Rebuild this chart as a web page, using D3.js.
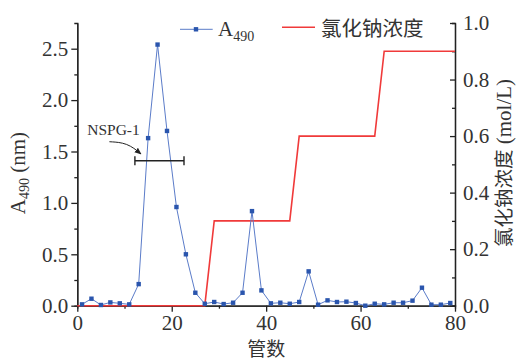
<!DOCTYPE html>
<html>
<head>
<meta charset="utf-8">
<script src="https://cdn.jsdelivr.net/npm/d3@7"></script>
<style>
  html, body { margin: 0; padding: 0; background: #fff; }
  svg { display: block; }
  .tick text { font-family: "Liberation Serif", "Times New Roman", serif; font-size: 21px; fill: #333; }
</style>
</head>
<body>
<svg id="chart" width="517" height="361"></svg>
<script>
// Tube numbers (odd fractions) and absorbance at 490 nm
const tubes = [1, 3, 5, 7, 9, 11, 13, 15, 17, 19, 21, 23, 25, 27, 29, 31, 33, 35, 37, 39,
               41, 43, 45, 47, 49, 51, 53, 55, 57, 59, 61, 63, 65, 67, 69, 71, 73, 75, 77, 79];
const a490 = [0.013, 0.068, 0.007, 0.032, 0.023, 0.013, 0.21, 1.63, 2.54, 1.70,
              0.96, 0.50, 0.126, 0.019, 0.036, 0.016, 0.029, 0.126, 0.92, 0.149,
              0.023, 0.029, 0.019, 0.036, 0.334, 0.010, 0.052, 0.036, 0.039, 0.026,
              0.000, 0.019, 0.013, 0.029, 0.029, 0.049, 0.175, 0.010, 0.010, 0.026];

// NaCl step gradient (mol/L)
const saltTube = [0, 27, 29, 45, 47, 63, 65, 80];
const saltConc = [0, 0, 0.3, 0.3, 0.6, 0.6, 0.9, 0.9];

// Axis ticks
const xTicks = [0, 20, 40, 60, 80];
const xMinor = [10, 30, 50, 70];
const yLeftTicks = [0, 0.5, 1.0, 1.5, 2.0, 2.5];
const yLeftMinor = [0.25, 0.75, 1.25, 1.75, 2.25];
const yRightTicks = [0, 0.2, 0.4, 0.6, 0.8, 1.0];
const yRightMinor = [0.1, 0.3, 0.5, 0.7, 0.9];

// Pooled fraction range for NSPG-1
const poolRange = [12.2, 22.6];
const poolLevel = 1.41;

const svg = d3.select("#chart");
const L = 77.3, R = 455, T = 23, B = 305.7;

const x = d3.scaleLinear().domain([0, 80]).range([L, R]);
const yL = d3.scaleLinear().domain([0, 2.75]).range([B, T]);
const yR = d3.scaleLinear().domain([0, 1.0]).range([B, T]);

const axisColor = "#222";
function styleAxis(g) {
  g.selectAll("path.domain").attr("stroke", axisColor).attr("stroke-width", 1.3);
  g.selectAll(".tick line").attr("stroke", axisColor).attr("stroke-width", 1.3);
}

// Minor ticks
svg.append("g").attr("transform", `translate(${L},0)`)
  .call(d3.axisLeft(yL).tickValues(yLeftMinor).tickSize(3).tickFormat(""))
  .call(styleAxis);
svg.append("g").attr("transform", `translate(0,${B})`)
  .call(d3.axisBottom(x).tickValues(xMinor).tickSize(3).tickFormat(""))
  .call(styleAxis);
svg.append("g").attr("transform", `translate(${R},0)`)
  .call(d3.axisRight(yR).tickValues(yRightMinor).tickSize(-3).tickFormat(""))
  .call(styleAxis);

// Major axes
svg.append("g").attr("transform", `translate(${L},0)`)
  .call(d3.axisLeft(yL).tickValues(yLeftTicks).tickSize(6).tickSizeOuter(0).tickPadding(3).tickFormat(d3.format(".1f")))
  .call(styleAxis);
svg.append("g").attr("transform", `translate(0,${B})`)
  .call(d3.axisBottom(x).tickValues(xTicks).tickSize(6).tickSizeOuter(0).tickPadding(3).tickFormat(d3.format("d")))
  .call(styleAxis);
svg.append("g").attr("transform", `translate(${R},0)`)
  .call(d3.axisRight(yR).tickValues(yRightTicks).tickSize(-5).tickSizeOuter(0).tickPadding(8).tickFormat(d3.format(".1f")))
  .call(styleAxis);

// NaCl gradient line
const saltData = saltTube.map((t, i) => [t, saltConc[i]]);
svg.append("path")
  .datum(saltData)
  .attr("fill", "none")
  .attr("stroke", "#f03a3a")
  .attr("stroke-width", 1.6)
  .attr("d", d3.line().x(d => x(d[0])).y(d => yR(d[1])));

// Absorbance curve
const absData = tubes.map((t, i) => [t, a490[i]]);
svg.append("path")
  .datum(absData)
  .attr("fill", "none")
  .attr("stroke", "#5b7cc9")
  .attr("stroke-width", 1)
  .attr("d", d3.line().x(d => x(d[0])).y(d => yL(d[1])));
svg.append("g").selectAll("rect")
  .data(absData)
  .join("rect")
  .attr("x", d => x(d[0]) - 2.2)
  .attr("y", d => yL(d[1]) - 2.2)
  .attr("width", 4.4)
  .attr("height", 4.4)
  .attr("fill", "#2a55ad");

// NSPG-1 pooled range bar
const barY = yL(poolLevel);
const bar = svg.append("g").attr("stroke", "#222").attr("stroke-width", 1.4);
bar.append("line").attr("x1", x(poolRange[0])).attr("x2", x(poolRange[1])).attr("y1", barY).attr("y2", barY);
poolRange.forEach(v => {
  bar.append("line").attr("x1", x(v)).attr("x2", x(v)).attr("y1", barY - 4.5).attr("y2", barY + 4.5);
});

// Label with arrow
const serif = "'Liberation Serif', 'Times New Roman', serif";
const cjk = "'Noto Sans CJK SC', sans-serif";
svg.append("text")
  .attr("x", x(2.1)).attr("y", yL(1.66))
  .attr("font-family", serif).attr("font-size", 15.5).attr("fill", "#333")
  .text("NSPG-1");
svg.append("defs").append("marker")
  .attr("id", "arrowhead").attr("viewBox", "0 0 10 10")
  .attr("refX", 9).attr("refY", 5)
  .attr("markerWidth", 7).attr("markerHeight", 7)
  .attr("orient", "auto")
  .append("path").attr("d", "M0,1 L10,5 L0,9 Z").attr("fill", "#222");
const arrowPts = [[6.8, 1.595], [10.6, 1.585], [13.5, 1.476]];
svg.append("path")
  .attr("d", d3.line().curve(d3.curveBasis).x(d => x(d[0])).y(d => yL(d[1]))(arrowPts))
  .attr("fill", "none").attr("stroke", "#222").attr("stroke-width", 1)
  .attr("marker-end", "url(#arrowhead)");

// Legend
const lg = svg.append("g");
lg.append("line").attr("x1", 180).attr("x2", 212.7).attr("y1", 29.3).attr("y2", 29.3)
  .attr("stroke", "#5b7cc9").attr("stroke-width", 1);
lg.append("rect").attr("x", 196 - 2.2).attr("y", 29.3 - 2.2).attr("width", 4.4).attr("height", 4.4).attr("fill", "#2a55ad");
const lgA = lg.append("text").attr("x", 218).attr("y", 36)
  .attr("font-family", serif).attr("font-size", 21).attr("fill", "#333");
lgA.append("tspan").text("A");
lgA.append("tspan").attr("font-size", 14).attr("dy", 5).text("490");

lg.append("line").attr("x1", 282).attr("x2", 315).attr("y1", 27.3).attr("y2", 27.3)
  .attr("stroke", "#f03a3a").attr("stroke-width", 1.6);
lg.append("text").attr("x", 321).attr("y", 35.5)
  .attr("font-family", cjk).attr("font-size", 20.5).attr("fill", "#333")
  .text("氯化钠浓度");

// Axis titles
const yTitle = svg.append("text")
  .attr("transform", `translate(25,${173}) rotate(-90)`)
  .attr("text-anchor", "middle")
  .attr("font-family", serif).attr("font-size", 21).attr("fill", "#333");
yTitle.append("tspan").text("A");
yTitle.append("tspan").attr("font-size", 14).attr("dy", 4).text("490");
yTitle.append("tspan").attr("dy", -4).text(" (nm)");

const y2Title = svg.append("text")
  .attr("transform", `translate(511,${163}) rotate(-90)`)
  .attr("text-anchor", "middle")
  .attr("fill", "#333");
y2Title.append("tspan").attr("font-family", cjk).attr("font-size", 19.5).text("氯化钠浓度");
y2Title.append("tspan").attr("font-family", serif).attr("font-size", 21).text(" (mol/L)");

svg.append("text")
  .attr("x", (L + R) / 2).attr("y", 355.5)
  .attr("text-anchor", "middle")
  .attr("font-family", cjk).attr("font-size", 19).attr("fill", "#333")
  .text("管数");
</script>
</body>
</html>
